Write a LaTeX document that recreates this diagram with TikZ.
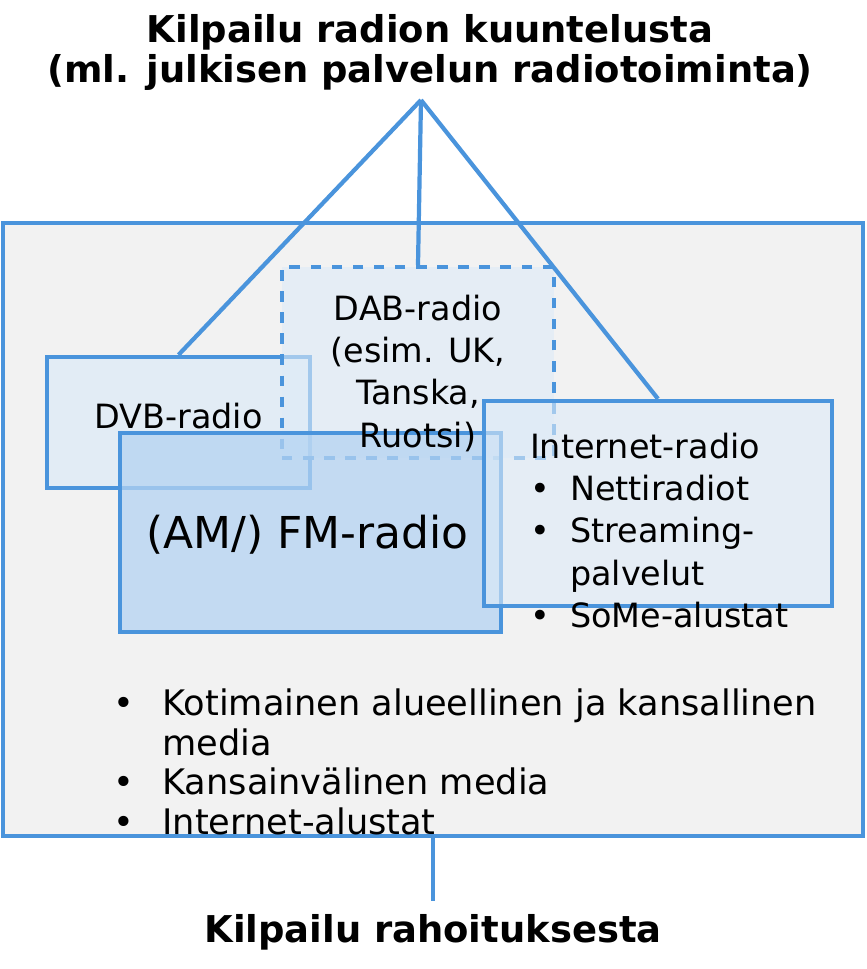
\documentclass[tikz,border=0pt]{standalone}
\usepackage{fontspec}
\setmainfont{DejaVu Sans}
\usepackage{xcolor}
\usetikzlibrary{positioning}
\definecolor{frameblue}{HTML}{4A94DC}
\definecolor{paleblue}{HTML}{DDEBF7}
\definecolor{midblue}{HTML}{B4D3F2}
\definecolor{panelgray}{HTML}{F2F2F2}

\begin{document}
\begin{tikzpicture}[x=0.01cm, y=-0.01cm, thick,
	radiobox/.style={draw=frameblue, line width=1.2pt, fill=paleblue, fill opacity=0.75, text opacity=1, inner sep=0pt},
	tag/.style={font=\fontsize{9.5}{12}\selectfont, align=left}]
	\useasboundingbox (0,0) rectangle (866,969);
	\node[font=\bfseries\fontsize{10.5}{11.4}\selectfont, align=center] (title) at (430,52)
		{Kilpailu radion kuuntelusta\\(ml. julkisen palvelun radiotoiminta)};
	\coordinate (apex) at (421,100);

	\node[draw=frameblue, line width=1.2pt, fill=panelgray, inner sep=0pt,
		minimum width=8.6cm, minimum height=6.13cm] (panel) at (433,529.5) {};
	\node[radiobox, minimum width=2.63cm, minimum height=1.31cm] (dvb) at (178.5,422.5) {};
	\node[radiobox, dashed, minimum width=2.72cm, minimum height=1.91cm, fill opacity=0.6] (dab) at (418,362.5) {};
	\node[radiobox, fill=midblue, minimum width=3.81cm, minimum height=1.99cm] (fm) at (310.5,532.5) {};
	\node[radiobox, minimum width=3.48cm, minimum height=2.05cm, fill opacity=0.6] (net) at (658,503.5) {};

	\node[tag] at (dvb.north) [below=10pt] {DVB-radio};
	\node[tag, align=center, anchor=north] at (418,282) {DAB-radio\\(esim. UK,\\Tanska,\\Ruotsi)};
	\node[font=\fontsize{12.5}{14}\selectfont, anchor=west] at (133,535) {(AM/) FM-radio};
	\node[tag, anchor=north west] at (517,420) {Internet-radio\\
		\makebox[1.2em][l]{•}Nettiradiot\\
		\makebox[1.2em][l]{•}Streaming-\\
		\makebox[1.2em][l]{}palvelut\\
		\makebox[1.2em][l]{•}SoMe-alustat};
	\node[tag, anchor=north west, font=\fontsize{10}{11.2}\selectfont] at (100,676) {%
		\makebox[1.4em][l]{•}Kotimainen alueellinen ja kansallinen\\
		\makebox[1.4em][l]{}media\\
		\makebox[1.4em][l]{•}Kansainvälinen media\\
		\makebox[1.4em][l]{•}Internet-alustat};

	\draw[frameblue, line width=1.2pt] (apex) -- (dvb.north);
	\draw[frameblue, line width=1.2pt] (apex) -- (dab.north);
	\draw[frameblue, line width=1.2pt] (apex) -- (net.north);

	\node[font=\bfseries\fontsize{10.5}{12}\selectfont] (money) at (433,932) {Kilpailu rahoituksesta};
	\draw[frameblue, line width=1.2pt] (panel.south) -- (money.north);
\end{tikzpicture}
\end{document}
